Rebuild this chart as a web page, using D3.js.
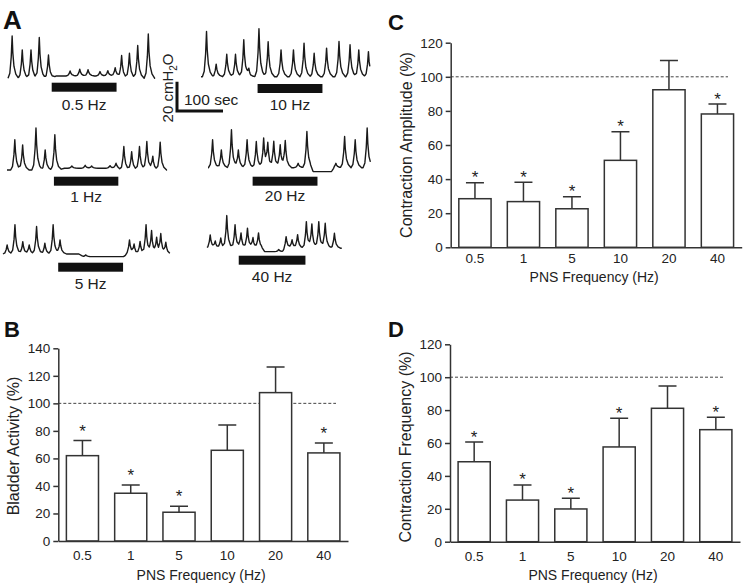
<!DOCTYPE html>
<html>
<head>
<meta charset="utf-8">
<script src="https://cdn.jsdelivr.net/npm/d3@7"></script>
<style>
  body { margin: 0; background: #fff; }
  svg { display: block; font-family: "Liberation Sans", Arial, Helvetica, sans-serif; }
</style>
</head>
<body>
<div id="chart"></div>
<script>
(function(){

    // ---- bar chart data (% of control) ----
    const freqs = ['0.5', '1', '5', '10', '20', '40'];

    const activityMean = [62, 34.7, 20.9, 65.9, 107.8, 64];
    const activitySem  = [11, 6, 4.3, 18.4, 18.7, 7.2];
    const activitySig  = [true, true, true, false, false, true];

    const amplitudeMean = [28.5, 26.8, 22.6, 51, 92.4, 78.2];
    const amplitudeSem  = [9.4, 11.3, 7.1, 16.8, 17.1, 5.8];
    const amplitudeSig  = [true, true, true, true, false, true];

    const frequencyMean = [48.6, 25.3, 19.9, 57.6, 81.1, 68.1];
    const frequencySem  = [12, 9.2, 6.5, 17.4, 13.6, 7.5];
    const frequencySig  = [true, true, true, true, false, true];

    // ---- cystometry traces: peaks as [time (s), amplitude (cmH2O)] ----
    const trace05Peaks = [[9,29],[31,19.5],[50,19.5],[68,28],[88,16],
        [135,3.4],[156,4.6],[174,4.3],[200,3],[217,3.6],[233,5.7],
        [247,15.6],[264,17.2],[282,22.5],[305,30.3]];
    const trace10Peaks = [[12,31],[33,8.6],[56,15.4],[75,15.4],[93,25.3],[104,4.6],
        [126,32.9],[146,24],[174,18.4],[201,18.4],[224,23],[246,16.1],
        [273,19.6],[300,24.1],[324,21.9],[343,18.4],[364,17.2]];
    const trace1Peaks = [[17,20.7],[34,17.2],[63,28.8],[83,13.8],[104,24.1],
        [141,1.5],[170,2],[184,1.5],[224,1.8],[237,3.4],
        [254,16.1],[271,12.6],[288,16.1],[304,19.5],[317,9.2],[333,19.1]];
    const trace20Peaks = [[10,19.1],[29,12.2],[51,26],[66,12.2],[85,19.1],
        [105,17.9],[121,20.3],[130,15.7],[143,17.9],[157,15.7],[168,17.9],
        [196,3],[215,24.8],[278,3],[297,21.4],[320,19.1],[346,27.2]];
    const trace5Peaks = [[9,6.2],[26,20],[43,8.5],[57,6.2],[73,18.8],[91,7.4],
        [109,20],[124,9.7],[180,1.2],
        [275,9.7],[285,6.2],[298,8.5],[311,20],[323,15.4],[334,10.8],[343,13.1],[354,7.4]];
    const trace40Peaks = [[7,9.2],[18,4.6],[30,6.9],[43,22.3],[61,16.1],[74,10.3],
        [88,13.8],[100,6.9],[112,10.3],[156,1.5],[172,8],[185,5.7],[197,9.2],
        [216,18.3],[228,16.1],[243,18.3],[257,17.2],[277,10.3]];

    // tonic pressure level [time (s), cmH2O relative to rest]
    const trace05Base = [[0,0],[95,0],[105,1.6],[238,1.6],[244,0],[320,0]];
    const trace10Base = [[0,0],[367,0]];
    const trace1Base  = [[0,0],[112,0],[125,1.2],[240,1.2],[248,0],[348,0]];
    const trace20Base = [[0,0],[222,0],[228,-2.7],[268,-2.7],[275,0],[353,0]];
    const trace5Base  = [[0,0],[165,0],[175,-1.8],[262,-1.8],[270,0],[363,0]];
    const trace40Base = [[0,0],[118,0],[125,-2.3],[165,-2.3],[172,0],[293,0]];

    const traceLabels = ['0.5 Hz', '10 Hz', '1 Hz', '20 Hz', '5 Hz', '40 Hz'];
    const stimWindows = [[95,236],[123,264],[102,242],[97,238],[120,261],[69,214]];

    const scaleTime = 100;     // sec
    const scalePressure = 20;  // cmH2O

    const width = 743;
    const height = 585;
    const ink = '#333';

    const svg = d3.select('#chart')
        .append('svg')
        .attr('width', width)
        .attr('height', height);

    // ---------------- panel A ----------------
    const pxPerSec = 0.46;
    const pxPerCm = 1.46;

    // rest position of each trace on the page
    const traceLayout = [
        {x: 8,   y: 78.3,  barY: 82.7,  labelY: 110},
        {x: 201, y: 76.7,  barY: 84,    labelY: 110},
        {x: 7,   y: 170,   barY: 176.7, labelY: 202},
        {x: 208, y: 167.7, barY: 176.7, labelY: 201},
        {x: 3,   y: 254,   barY: 262.7, labelY: 289},
        {x: 207, y: 248.3, barY: 255.7, labelY: 282}
    ];

    const traces = [
        {peaks: trace05Peaks, base: trace05Base},
        {peaks: trace10Peaks, base: trace10Base},
        {peaks: trace1Peaks,  base: trace1Base},
        {peaks: trace20Peaks, base: trace20Base},
        {peaks: trace5Peaks,  base: trace5Base},
        {peaks: trace40Peaks, base: trace40Base}
    ];

    // shape of a single contraction (relative time s, fraction of peak)
    const spike = [[-9,0],[-5,0.12],[-2,0.5],[0,1],[1.5,0.6],[4,0.28],[8,0.1],[14,0]];

    function interp(pts, t){
        if (t <= pts[0][0]) return pts[0][1];
        for (let i = 1; i < pts.length; i++){
            if (t <= pts[i][0]){
                const a = pts[i-1], b = pts[i];
                return a[1] + (b[1]-a[1]) * (t-a[0]) / (b[0]-a[0]);
            }
        }
        return pts[pts.length-1][1];
    }

    traces.forEach(function(tr, i){
        const lay = traceLayout[i];
        const dur = tr.base[tr.base.length-1][0];

        const x = d3.scaleLinear().domain([0, dur]).range([lay.x, lay.x + dur*pxPerSec]);
        const y = d3.scaleLinear().domain([0, 40]).range([lay.y, lay.y - 40*pxPerCm]);

        let times = tr.base.map(d => d[0]);
        tr.peaks.forEach(function(p){
            spike.forEach(s => times.push(p[0] + s[0]));
        });
        times = Array.from(new Set(times.filter(t => t >= 0 && t <= dur))).sort((a,b) => a-b);

        const pts = times.map(function(t){
            let v = interp(tr.base, t);
            tr.peaks.forEach(function(p){ v += p[1] * interp(spike, t - p[0]); });
            return [t, v];
        });

        svg.append('path')
            .datum(pts)
            .attr('fill', 'none')
            .attr('stroke', '#1a1a1a')
            .attr('stroke-width', 1.4)
            .attr('stroke-linejoin', 'round')
            .attr('d', d3.line().x(d => x(d[0])).y(d => y(d[1])));

        const stim = stimWindows[i];
        svg.append('rect')
            .attr('x', x(stim[0]))
            .attr('y', lay.barY)
            .attr('width', x(stim[1]) - x(stim[0]))
            .attr('height', 9)
            .attr('fill', '#111');

        svg.append('text')
            .attr('x', (x(stim[0]) + x(stim[1])) / 2)
            .attr('y', lay.labelY)
            .attr('text-anchor', 'middle')
            .attr('font-size', 15.5)
            .attr('fill', '#222')
            .text(traceLabels[i]);
    });

    // scale bars
    const sbX = 177, sbY = 111;
    svg.append('path')
        .attr('d', `M${sbX},${sbY - scalePressure*pxPerCm}V${sbY}H${sbX + scaleTime*pxPerSec}`)
        .attr('fill', 'none')
        .attr('stroke', '#111')
        .attr('stroke-width', 3);
    svg.append('text')
        .attr('x', 184).attr('y', 105)
        .attr('font-size', 15.5).attr('fill', '#222')
        .text(scaleTime + ' sec');
    const cm = svg.append('text')
        .attr('transform', 'translate(172.5,88) rotate(-90)')
        .attr('text-anchor', 'middle')
        .attr('font-size', 15).attr('fill', '#222');
    cm.append('tspan').text(scalePressure + ' cmH');
    cm.append('tspan').attr('font-size', 10).attr('dy', 4).text('2');
    cm.append('tspan').attr('dy', -4).text('O');

    svg.append('text')
        .attr('x', 3).attr('y', 29)
        .attr('font-size', 26).attr('font-weight', 'bold').attr('fill', '#111')
        .text('A');

    // ---------------- bar panels ----------------
    function barPanel(o){
        const g = svg.append('g');

        const x = d3.scaleBand()
            .domain(freqs)
            .range([o.x0, o.x1])
            .paddingInner(0.335)
            .paddingOuter(0.1675);
        const y = d3.scaleLinear()
            .domain([0, o.yMax])
            .range([o.y0, o.yTop]);

        // reference line at 100 %
        g.append('line')
            .attr('x1', o.x0).attr('x2', o.dashEnd)
            .attr('y1', y(100)).attr('y2', y(100))
            .attr('stroke', '#444')
            .attr('stroke-width', 1)
            .attr('stroke-dasharray', '3,2');

        const data = freqs.map((f, i) => ({f: f, m: o.mean[i], s: o.sem[i], sig: o.sig[i]}));

        // error bars (upper only)
        g.selectAll('.err')
            .data(data)
            .enter().append('path')
            .attr('class', 'err')
            .attr('fill', 'none')
            .attr('stroke', ink)
            .attr('stroke-width', 1.5)
            .attr('d', function(d){
                const cx = x(d.f) + x.bandwidth()/2;
                return `M${cx},${y(d.m)}V${y(d.m + d.s)}M${cx-9},${y(d.m + d.s)}H${cx+9}`;
            });

        g.selectAll('.bar')
            .data(data)
            .enter().append('rect')
            .attr('class', 'bar')
            .attr('x', d => x(d.f))
            .attr('y', d => y(d.m))
            .attr('width', x.bandwidth())
            .attr('height', d => y(0) - y(d.m))
            .attr('fill', '#fff')
            .attr('stroke', ink)
            .attr('stroke-width', 1.5);

        g.selectAll('.star')
            .data(data.filter(d => d.sig))
            .enter().append('text')
            .attr('class', 'star')
            .attr('x', d => x(d.f) + x.bandwidth()/2)
            .attr('y', d => y(d.m + d.s) - o.starGap)
            .attr('text-anchor', 'middle')
            .attr('font-size', 17)
            .attr('fill', '#222')
            .text('*');

        const yAxis = g.append('g')
            .attr('transform', `translate(${o.x0},0)`)
            .call(d3.axisLeft(y).tickValues(d3.range(0, o.yMax + 1, 20)).tickSize(5).tickSizeOuter(0).tickPadding(3));
        const xAxis = g.append('g')
            .attr('transform', `translate(0,${o.y0})`)
            .call(d3.axisBottom(x).tickSize(0).tickSizeOuter(0).tickPadding(o.tickPad));

        [yAxis, xAxis].forEach(function(a){
            a.attr('font-family', null).attr('font-size', 13.5);
            a.select('.domain').attr('stroke', ink).attr('stroke-width', 1.5);
            a.selectAll('.tick line').attr('stroke', ink).attr('stroke-width', 1.5);
            a.selectAll('.tick text').attr('fill', '#222');
        });

        g.append('text')
            .attr('x', (o.x0 + o.x1) / 2 - 2)
            .attr('y', o.xTitleY)
            .attr('text-anchor', 'middle')
            .attr('font-size', 14)
            .attr('fill', '#222')
            .text('PNS Frequency (Hz)');

        g.append('text')
            .attr('transform', `translate(${o.yTitleX},${o.yTitleY}) rotate(-90)`)
            .attr('text-anchor', 'middle')
            .attr('font-size', 16)
            .attr('fill', '#222')
            .text(o.yTitle);

        g.append('text')
            .attr('x', o.letterX).attr('y', o.letterY)
            .attr('font-size', 22).attr('font-weight', 'bold').attr('fill', '#111')
            .text(o.letter);
    }

    barPanel({
        letter: 'B', letterX: 4, letterY: 337,
        x0: 58.3, x1: 348, y0: 541, yTop: 348.3, yMax: 140, dashEnd: 336,
        mean: activityMean, sem: activitySem, sig: activitySig,
        starGap: 4, tickPad: 9, xTitleY: 580,
        yTitle: 'Bladder Activity (%)', yTitleX: 18.5, yTitleY: 446
    });

    barPanel({
        letter: 'C', letterX: 388, letterY: 30,
        x0: 450.7, x1: 741.7, y0: 247.3, yTop: 42.7, yMax: 120, dashEnd: 728,
        mean: amplitudeMean, sem: amplitudeSem, sig: amplitudeSig,
        starGap: -0.5, tickPad: 6.5, xTitleY: 281.5,
        yTitle: 'Contraction Amplitude (%)', yTitleX: 411.5, yTitleY: 145
    });

    barPanel({
        letter: 'D', letterX: 388, letterY: 337,
        x0: 450, x1: 740, y0: 541.7, yTop: 344.3, yMax: 120, dashEnd: 724,
        mean: frequencyMean, sem: frequencySem, sig: frequencySig,
        starGap: -0.5, tickPad: 10, xTitleY: 580,
        yTitle: 'Contraction Frequency (%)', yTitleX: 411, yTitleY: 447
    });

}());
</script>
</body>
</html>
